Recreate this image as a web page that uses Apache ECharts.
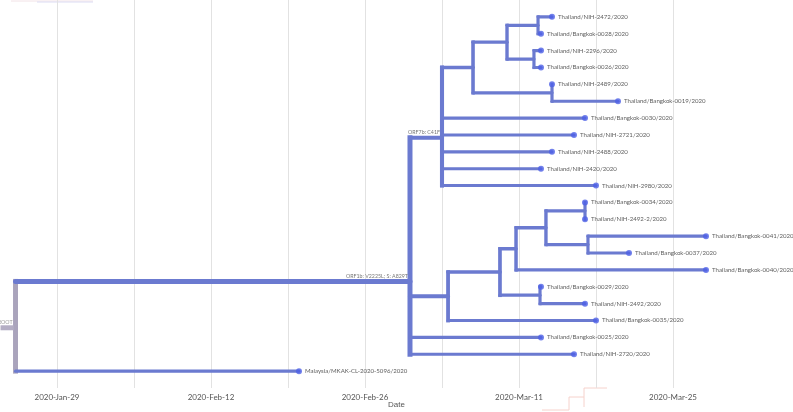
<!DOCTYPE html>
<html>
<head>
<meta charset="utf-8">
<script src="https://cdn.jsdelivr.net/npm/echarts@6/dist/echarts.min.js"></script>
<style>
html,body{margin:0;padding:0;background:#fff;}
#chart{width:793px;height:412px;}
</style>
</head>
<body>
<div id="chart"></div>
<script>
// ---- data (x in days after 2020-01-29) ----
const tipNames = [
  'Thailand/NIH-2472/2020','Thailand/Bangkok-0028/2020','Thailand/NIH-2296/2020','Thailand/Bangkok-0026/2020',
  'Thailand/NIH-2489/2020','Thailand/Bangkok-0019/2020','Thailand/Bangkok-0030/2020','Thailand/NIH-2721/2020',
  'Thailand/NIH-2488/2020','Thailand/NIH-2420/2020','Thailand/NIH-2980/2020','Thailand/Bangkok-0034/2020',
  'Thailand/NIH-2492-2/2020','Thailand/Bangkok-0041/2020','Thailand/Bangkok-0037/2020','Thailand/Bangkok-0040/2020',
  'Thailand/Bangkok-0029/2020','Thailand/NIH-2492/2020','Thailand/Bangkok-0035/2020','Thailand/Bangkok-0025/2020',
  'Thailand/NIH-2720/2020','Malaysia/MKAK-CL-2020-5096/2020'
];
const tipDays = [45,44,44,44,45,51,48,47,45,44,49,48,48,59,52,59,44,48,49,44,47,22];
const tipParent = ['R','R','S','S','T','T','B','B','B','B','B','I','I','J','J','F','G','G','C','A','A','ROOT'];

const nodeIds    = ['ROOT','A','B','P','Q','R','S','T','C','D','F','H','I','J','G'];
const nodeDays   = [-3.77,32.09,35.0,37.82,40.91,43.73,43.36,45.0,35.55,40.27,41.73,44.45,48.0,48.27,43.91];
const nodeParent = [null,'ROOT','A','B','P','Q','Q','P','A','C','D','F','H','H','D'];

const branchLabelNodes = ['A','B'];
const branchLabelTexts = ['ORF1b: V2225L; S: A829T','ORF7b: C41F'];
const rootLabel = 'ROOT';

const axisStartDate = Date.UTC(2020,0,29);
const months = ['Jan','Feb','Mar','Apr','May','Jun','Jul','Aug','Sep','Oct','Nov','Dec'];

// ---- tree layout (y = mean of children) ----
const nodes = {};
nodeIds.forEach((id,i)=>{ nodes[id] = {id, day:nodeDays[i], parent:nodeParent[i], children:[], tips:0}; });
tipNames.forEach((n,i)=>{ nodes['tip'+i] = {id:'tip'+i, day:tipDays[i], parent:tipParent[i], children:[], y:i, tips:1, isTip:true}; });
Object.values(nodes).forEach(n=>{ if(n.parent) nodes[n.parent].children.push(n); });
function layout(n){
  if(n.isTip) return n.y;
  let s=0, t=0;
  n.children.forEach(c=>{ s+=layout(c); t+=c.tips; });
  n.tips = t;
  n.y = s/n.children.length;
  return n.y;
}
layout(nodes['ROOT']);

const BLUE = '#6b7ad0';
const DOT = '#4d60e6';
const ROOTC = '#aaa4bc';
function widthFor(n){ return 3 + Math.min(2, n.tips/10); }

const horizData = [];
const vertData = [];
Object.values(nodes).forEach(n=>{
  if(n.parent){
    const p = nodes[n.parent];
    horizData.push([p.day, n.day, n.y, widthFor(n)]);
  }
  if(!n.isTip){
    const ys = n.children.map(c=>c.y);
    vertData.push([n.day, Math.min(...ys), Math.max(...ys), n.id==='ROOT'?1:0, widthFor(n)]);
  }
});
const tipData = tipNames.map((nm,i)=>({name:nm, value:[tipDays[i], i]}));
const blData = branchLabelNodes.map((id,i)=>[nodes[id].day, nodes[id].y, i]);

function fmt(v){
  if(((v%14)+14)%14!==0) return '';
  const d = new Date(axisStartDate + v*86400000);
  const dd = String(d.getUTCDate()).padStart(2,'0');
  return d.getUTCFullYear()+'-'+months[d.getUTCMonth()]+'-'+dd;
}
// weekly grid lines at 0,7,...,56; the extent end (62) gets none
const gridColors = [];
for(let v=0; v<=56; v+=7) gridColors.push('#e2e2e2');
gridColors.push('rgba(0,0,0,0)');

const chart = echarts.init(document.getElementById('chart'), null, {renderer:'canvas'});
chart.setOption({
  animation:false,
  textStyle:{fontFamily:'Lato'},
  grid:{left:57, right:54, top:0, bottom:24},
  xAxis:{
    type:'value', min:0, max:62, interval:7,
    axisLine:{show:false}, axisTick:{show:false},
    splitLine:{show:true, lineStyle:{color:gridColors, width:1}},
    axisLabel:{formatter:fmt, fontSize:8, color:'#555', margin:5, fontFamily:'Lato', showMinLabel:true, showMaxLabel:false}
  },
  yAxis:{type:'value', inverse:true, min:-1, max:22, show:false},
  graphic:[
    {type:'text', left:'center', top:401, style:{text:'Date', fontSize:8, fill:'#555', font:'8px Lato'}},
    {type:'line', shape:{x1:11,y1:1,x2:93,y2:1}, style:{stroke:'#f2e2e6', lineWidth:1}},
    {type:'line', shape:{x1:37,y1:2,x2:93,y2:2}, style:{stroke:'#dcdcf4', lineWidth:1}},
    {type:'polyline', shape:{points:[[542,410],[569,410],[569,397],[584,397],[584,388],[607,388]]}, style:{stroke:'#f6d2cc', lineWidth:1, fill:null}},
    {type:'line', shape:{x1:584,y1:397,x2:584,y2:407}, style:{stroke:'#f6d2cc', lineWidth:1}}
  ],
  series:[
    {
      type:'custom', data:vertData, z:2, clip:false,
      renderItem:function(params, api){
        const a = api.coord([api.value(0), api.value(1)]);
        const b = api.coord([api.value(0), api.value(2)]);
        const isRoot = api.value(3)===1;
        return {type:'line', shape:{x1:a[0],y1:a[1],x2:b[0],y2:b[1]},
          style:{stroke:isRoot?ROOTC:BLUE, lineWidth:isRoot?5:api.value(4), lineCap:'square'}};
      }
    },
    {
      type:'custom', data:horizData, z:3, clip:false,
      renderItem:function(params, api){
        const a = api.coord([api.value(0), api.value(2)]);
        const b = api.coord([api.value(1), api.value(2)]);
        return {type:'line', shape:{x1:a[0],y1:a[1],x2:b[0],y2:b[1]},
          style:{stroke:BLUE, lineWidth:api.value(3), lineCap:'round'}};
      }
    },
    {
      type:'custom', data:blData, z:6, clip:false,
      renderItem:function(params, api){
        const a = api.coord([api.value(0), api.value(1)]);
        return {type:'text', x:a[0]-2, y:a[1]-3,
          style:{text:branchLabelTexts[api.value(2)], fill:'#777', font:'5.3px Lato', align:'right', verticalAlign:'bottom'}};
      }
    },
    {
      type:'custom', data:[[nodes['ROOT'].day, nodes['ROOT'].y]], z:6, clip:false,
      renderItem:function(params, api){
        const a = api.coord([api.value(0), api.value(1)]);
        return {type:'group', children:[
          {type:'rect', shape:{x:a[0]-15, y:a[1]-1, width:13, height:5}, style:{fill:'#b4aec4'}},
          {type:'text', x:a[0]-3, y:a[1]-1, style:{text:rootLabel, fill:'#999', font:'5.3px Lato', align:'right', verticalAlign:'bottom'}}
        ]};
      }
    },
    {
      type:'scatter', data:tipData, z:5, symbolSize:6, clip:false,
      itemStyle:{color:DOT},
      label:{show:true, position:'right', distance:3, formatter:'{b}', fontSize:6.1, color:'#333', fontFamily:'Lato'}
    }
  ]
});
</script>
</body>
</html>
